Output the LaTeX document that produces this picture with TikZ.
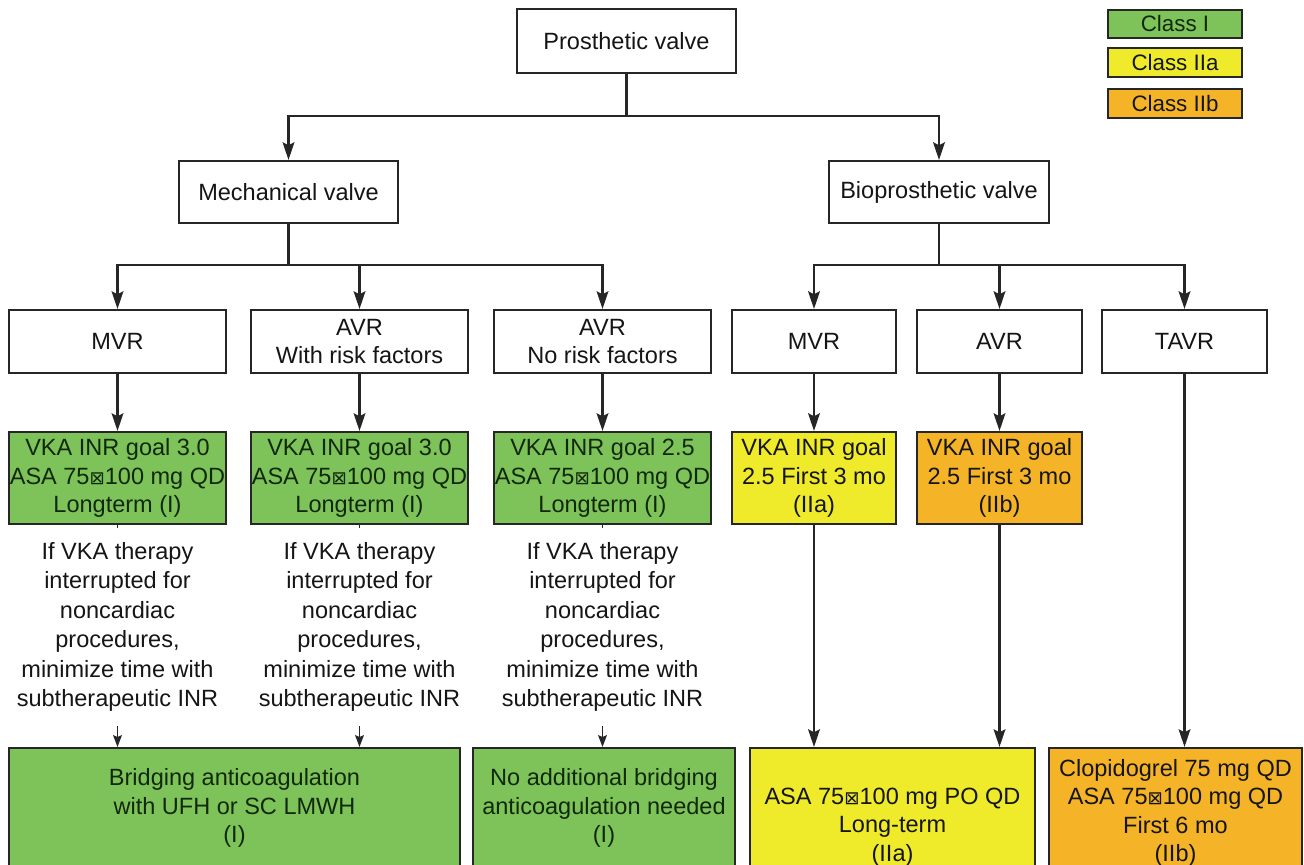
\documentclass[tikz,border=0pt]{standalone}
\usepackage{fontspec}
\setmainfont{Liberation Sans}
\newfontfamily\symfont{DejaVu Sans}
\usetikzlibrary{arrows.meta}
\definecolor{gr}{HTML}{7DC35A}
\definecolor{ye}{HTML}{EFEB2B}
\definecolor{orn}{HTML}{F5B428}
\definecolor{ln}{HTML}{262626}
\definecolor{tx}{HTML}{151515}
\definecolor{gtx}{HTML}{12280B}
\newcommand{\sqx}{{\symfont\fontsize{15.5}{15.5}\selectfont ⊠}}
\newcommand{\bx}[7]{\node[#2, minimum width={(#5-#3)*0.85pt}, minimum height={(#6-#4)*0.85pt}] (#1) at ({(#3+#5)/2},{(#4+#6)/2}) {#7};}
\tikzset{
 box/.style={draw=ln, line width=1.8pt, inner sep=0pt, align=center, text=tx, font=\fontsize{20}{24}\selectfont},
 wbox/.style={box, fill=white},
 gbox/.style={box, fill=gr, text=gtx},
 ybox/.style={box, fill=ye},
 obox/.style={box, fill=orn},
 leg/.style={box, font=\fontsize{19}{19}\selectfont, line width=1.6pt},
 arr/.style={draw=ln, line width=1.8pt, -{Stealth[length=15pt,width=10pt,inset=2.5pt]}},
 sarr/.style={draw=ln, line width=1.3pt, -{Stealth[length=10pt,width=7.5pt,inset=1.5pt]}},
 ln/.style={draw=ln, line width=1.3pt},
 note/.style={align=center, text=tx, font=\fontsize{20}{25}\selectfont, minimum height=168pt, inner sep=0pt},
}
\begin{document}
\begin{tikzpicture}[x=0.85pt,y=-0.85pt]
\clip (0,0) rectangle (1304,865);
\fill[white] (0,0) rectangle (1304,865);

% legend
\bx{l1}{leg,fill=gr,text=gtx}{1108}{10}{1242}{38}{Class I}
\bx{l2}{leg,fill=ye}{1108}{48}{1242}{77}{Class IIa}
\bx{l3}{leg,fill=orn}{1108}{89}{1242}{118}{Class IIb}

% top levels
\bx{pv}{wbox}{517}{9}{736}{73}{Prosthetic valve}
\bx{mech}{wbox}{179}{161}{398}{223}{Mechanical valve}
\bx{bio}{wbox}{829}{161}{1049}{223}{Bioprosthetic valve}
\coordinate (j1) at (626.5,116);
\coordinate (j2) at (288.5,265);
\coordinate (j3) at (939,265);

% row 2
\bx{mvr}{wbox}{9}{310}{226}{373}{MVR}
\bx{avr1}{wbox}{251}{310}{468}{373}{AVR\\With risk factors}
\bx{avr2}{wbox}{494}{310}{711}{373}{AVR\\No risk factors}
\bx{bmvr}{wbox}{732}{310}{896}{373}{MVR}
\bx{bavr}{wbox}{917}{310}{1082}{373}{AVR}
\bx{tavr}{wbox}{1102}{310}{1267}{373}{TAVR}

% row 3
\bx{g1}{gbox}{9}{432}{226}{524}{VKA INR goal 3.0\\ASA 75\sqx100 mg QD\\Longterm (I)}
\bx{g2}{gbox}{251}{432}{468}{524}{VKA INR goal 3.0\\ASA 75\sqx100 mg QD\\Longterm (I)}
\bx{g3}{gbox}{494}{432}{711}{524}{VKA INR goal 2.5\\ASA 75\sqx100 mg QD\\Longterm (I)}
\bx{g4}{ybox}{732}{432}{896}{524}{VKA INR goal\\2.5 First 3 mo\\(IIa)}
\bx{g5}{obox}{917}{432}{1082}{524}{VKA INR goal\\2.5 First 3 mo\\(IIb)}

% notes
\node[note] (n1) at (117.5,627) {If VKA therapy\\interrupted for\\noncardiac\\procedures,\\minimize time with\\subtherapeutic INR};
\node[note] (n2) at (359.5,627) {If VKA therapy\\interrupted for\\noncardiac\\procedures,\\minimize time with\\subtherapeutic INR};
\node[note] (n3) at (602.5,627) {If VKA therapy\\interrupted for\\noncardiac\\procedures,\\minimize time with\\subtherapeutic INR};

% bottom
\bx{bb}{gbox}{9}{748}{460}{868}{Bridging anticoagulation\\with UFH or SC LMWH\\(I)}
\bx{nb}{gbox}{473}{748}{735}{868}{No additional bridging\\anticoagulation needed\\(I)}
\bx{yb}{ybox}{750}{748}{1035}{906}{ASA 75\sqx100 mg PO QD\\Long-term\\(IIa)}
\bx{ob}{obox}{1049}{748}{1302}{878}{Clopidogrel 75 mg QD\\ASA 75\sqx100 mg QD\\First 6 mo\\(IIb)}

% connectors
\draw[arr] (pv.south) -- (j1) -| (mech.north);
\draw[arr] (j1) -| (bio.north);
\draw[arr] (mech.south) -- (j2) -| (mvr.north);
\draw[arr] (j2) -| (avr1.north);
\draw[arr] (j2) -| (avr2.north);
\draw[arr] (bio.south) -- (j3) -| (bmvr.north);
\draw[arr] (j3) -| (bavr.north);
\draw[arr] (j3) -| (tavr.north);

\draw[arr] (mvr.south) -- (g1.north);
\draw[arr] (avr1.south) -- (g2.north);
\draw[arr] (avr2.south) -- (g3.north);
\draw[arr] (bmvr.south) -- (g4.north);
\draw[arr] (bavr.south) -- (g5.north);

\draw[ln] (g1.south) -- (n1.north);
\draw[ln] (g2.south) -- (n2.north);
\draw[ln] (g3.south) -- (n3.north);
\draw[sarr] (n1.south) -- (n1.south |- bb.north);
\draw[sarr] (n2.south) -- (n2.south |- bb.north);
\draw[sarr] (n3.south) -- (n3.south |- nb.north);

\draw[arr] (g4.south) -- (g4.south |- yb.north);
\draw[arr] (g5.south) -- (g5.south |- yb.north);
\draw[arr] (tavr.south) -- (tavr.south |- ob.north);
\end{tikzpicture}
\end{document}
